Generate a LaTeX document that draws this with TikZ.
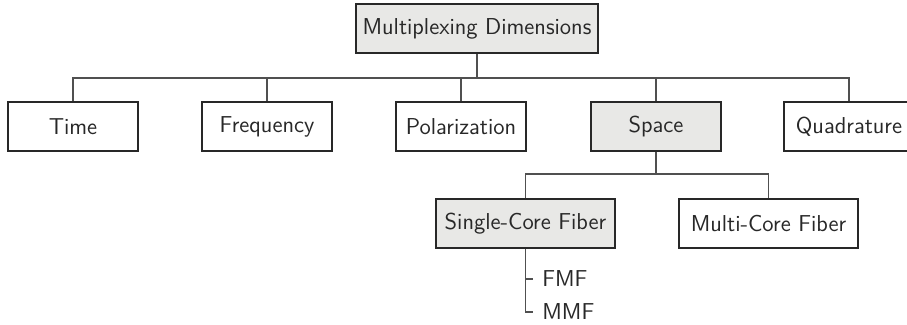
\documentclass[tikz,border=0pt]{standalone}
\usepackage{xcolor}
\definecolor{mdxgray}{RGB}{232, 232, 230}
\definecolor{mdxline}{RGB}{80, 80, 80}
\definecolor{mdxdark}{RGB}{40, 40, 40}
\usepackage{tikz}
\usetikzlibrary{positioning}
\renewcommand{\familydefault}{\sfdefault}

\tikzset{
  dimbox/.style={
    draw=mdxdark,
    line width=0.6pt,
    minimum width=65pt,
    minimum height=24.5pt,
    inner sep=0pt,
    fill=white,
    text=mdxdark
  },
  widebox/.style={dimbox, minimum width=89.5pt},
  shaded/.style={fill=mdxgray},
  leaf/.style={anchor=west, inner xsep=4.5pt, inner ysep=0pt, text=mdxdark},
  link/.style={draw=mdxline, line width=0.6pt}
}

\begin{document}
\begin{tikzpicture}[x=0.5pt, y=-0.5pt, font=\fontsize{11.5}{14}\selectfont]
    \useasboundingbox (0,0) rectangle (907,325);

    % root
    \node[dimbox, shaded, line width=1.2pt, minimum width=121pt] (root) at (477,28.5)
      {Multiplexing Dimensions};

    % first level
    \node[dimbox] (time) at (73,126.5) {Time};
    \node[dimbox] (freq) at (267,126.5) {Frequency};
    \node[dimbox] (pol) at (461,126.5) {Polarization};
    \node[dimbox, shaded] (space) at (656,126.5) {Space};
    \node[dimbox] (quad) at (849,126.5) {Quadrature};

    % fibers
    \node[widebox, shaded] (scf) at (525.5,223.5) {Single-Core Fiber};
    \node[widebox] (mcf) at (768.5,223.5) {Multi-Core Fiber};

    \node[leaf] (fmf) at (533,279) {FMF};
    \node[leaf] (mmf) at (533,312) {MMF};

    \coordinate (bus) at (0,78);
    \coordinate (subbus) at (0,174);

    \draw[link] (root.south) -- (root.south |- bus);
    \draw[link] (time.north) |- (quad.north |- bus) -- (quad.north);
    \foreach \n in {freq, pol, space}
      \draw[link] (\n.north) -- (\n.north |- bus);

    \draw[link] (space.south) -- (space.south |- subbus);
    \draw[link] (scf.north) |- (mcf.north |- subbus) -- (mcf.north);

    \draw[link] (scf.south) |- (mmf.west);
    \draw[link] (scf.south |- fmf.west) -- (fmf.west);
  \end{tikzpicture}
\end{document}
